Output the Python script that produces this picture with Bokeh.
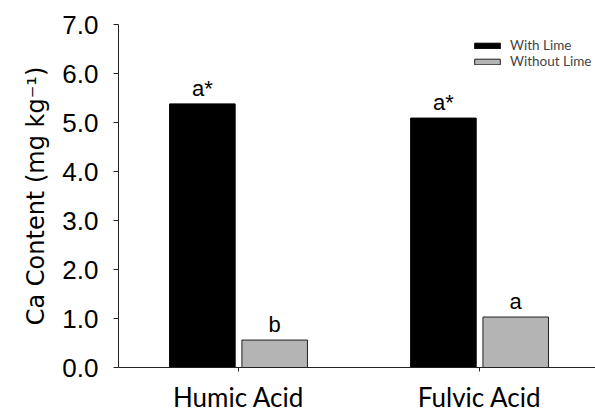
from bokeh.plotting import figure
from bokeh.models import ColumnDataSource, FixedTicker, Range1d, Legend, LegendItem, PrintfTickFormatter
from bokeh.core.properties import value
from bokeh.embed import file_html
from bokeh.resources import INLINE

categories = ["Humic Acid", "Fulvic Acid"]
with_lime = [5.38, 5.09]
without_lime = [0.56, 1.03]
with_labels = ["a*", "a*"]
without_labels = ["b", "a"]
y_ticks = [0, 1, 2, 3, 4, 5, 6, 7]

xpos = list(range(len(categories)))
off = 0.15
bw = 0.272

src_with = ColumnDataSource(dict(x=[i - off for i in xpos], top=with_lime, lab=with_labels))
src_without = ColumnDataSource(dict(x=[i + off for i in xpos], top=without_lime, lab=without_labels))

p = figure(width=595, height=415, output_backend="svg", toolbar_location=None,
           x_range=Range1d(-0.498, 1.481), y_range=Range1d(0, 7.0),
           min_border_left=118, min_border_right=0, min_border_top=24, min_border_bottom=45)
p.outline_line_color = None
p.xgrid.visible = False
p.ygrid.visible = False
p.background_fill_color = "white"
p.border_fill_color = "white"

r1 = p.vbar(x="x", top="top", width=bw, bottom=0, source=src_with,
            fill_color="black", line_color="black", line_width=1)
r2 = p.vbar(x="x", top="top", width=bw, bottom=0, source=src_without,
            fill_color="#b4b4b4", line_color="#222222", line_width=1)

for s in (src_with, src_without):
    p.text(x="x", y="top", text="lab", source=s, text_align="center", text_baseline="bottom",
           y_offset=-3, text_font=value("Liberation Sans"), text_font_size="22px", text_color="black")

p.yaxis.ticker = FixedTicker(ticks=y_ticks)
p.yaxis.formatter = PrintfTickFormatter(format="%.1f")
p.yaxis.minor_tick_line_color = None
p.yaxis.major_tick_in = 0
p.yaxis.major_tick_out = 5
p.yaxis.major_label_text_font = "Liberation Sans"
p.yaxis.major_label_text_font_size = "26px"
p.yaxis.major_label_text_color = "black"
p.yaxis.major_label_standoff = 15
p.yaxis.axis_label = "Ca Content (mg kg\u207b\u00b9)"
p.yaxis.axis_label_text_font = "DejaVu Sans"
p.yaxis.axis_label_text_font_size = "24px"
p.yaxis.axis_label_text_font_style = "normal"
p.yaxis.axis_label_text_color = "black"
p.yaxis.axis_label_standoff = 9
p.yaxis.axis_line_color = "#222222"
p.yaxis.major_tick_line_color = "#222222"

p.xaxis.ticker = FixedTicker(ticks=xpos)
p.xaxis.major_label_overrides = {i: c for i, c in zip(xpos, categories)}
p.xaxis.minor_tick_line_color = None
p.xaxis.major_tick_in = 0
p.xaxis.major_tick_out = 4
p.xaxis.major_label_text_font = "Lato"
p.xaxis.major_label_text_font_size = "26px"
p.xaxis.major_label_text_color = "black"
p.xaxis.major_label_standoff = 9
p.xaxis.axis_line_color = "#222222"
p.xaxis.major_tick_line_color = "#222222"

legend = Legend(items=[LegendItem(label="With Lime", renderers=[r1]),
                       LegendItem(label="Without Lime", renderers=[r2])],
                location=(353, 298), margin=0, padding=0, spacing=0,
                glyph_width=32, glyph_height=7, label_height=12, label_standoff=7,
                label_text_font="Lato", label_text_font_size="13.5px",
                border_line_color=None, background_fill_alpha=0)
p.add_layout(legend)

open("out.html", "w").write(file_html(p, INLINE))
